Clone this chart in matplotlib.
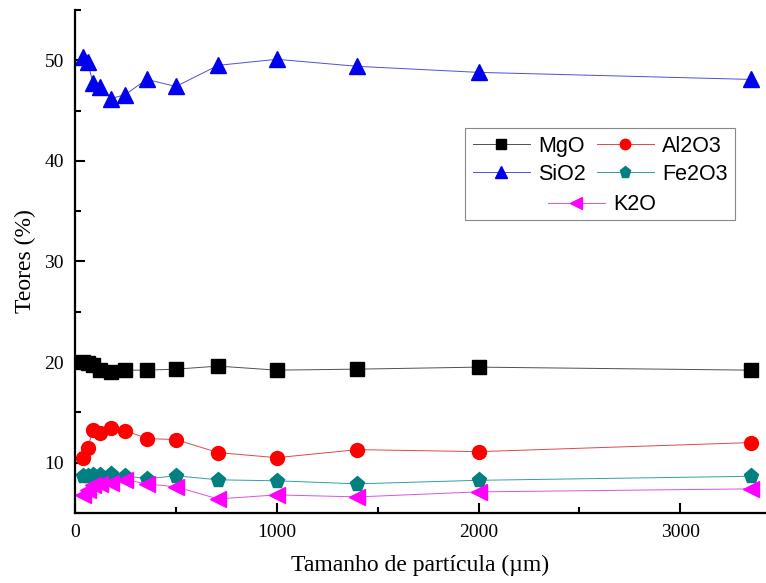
import matplotlib
matplotlib.use('Agg')
import matplotlib.pyplot as plt
from matplotlib.lines import Line2D
from matplotlib.ticker import MultipleLocator

# particle size (um)
sizes = [38, 63, 90, 125, 180, 250, 355, 500, 710, 1000, 1400, 2000, 3350]

mgo = [20.0, 19.9, 19.7, 19.2, 19.0, 19.2, 19.2, 19.3, 19.6, 19.2, 19.3, 19.5, 19.2]
al2o3 = [10.5, 11.5, 13.3, 13.0, 13.4, 13.2, 12.4, 12.3, 11.0, 10.5, 11.3, 11.1, 12.0]
sio2 = [50.3, 49.8, 47.7, 47.3, 46.2, 46.6, 48.1, 47.4, 49.5, 50.1, 49.4, 48.8, 48.1]
fe2o3 = [8.7, 8.7, 8.8, 8.8, 8.9, 8.7, 8.4, 8.7, 8.3, 8.2, 7.9, 8.25, 8.65]
k2o = [6.8, 7.3, 7.8, 7.9, 8.0, 8.3, 7.9, 7.6, 6.4, 6.8, 6.6, 7.1, 7.4]

serif = 'Liberation Serif'
sans = 'Liberation Sans'

fig = plt.figure(figsize=(7.66, 5.83), dpi=100)
ax = fig.add_axes([75 / 766, 70 / 583, 691 / 766, 503 / 583])

lw = 0.7


def series(y, marker_color, line_color, marker, ms, label):
    line, = ax.plot(sizes, y, color=line_color, lw=lw, marker=marker, ms=ms,
                    markerfacecolor=marker_color, markeredgecolor=marker_color,
                    label=label)
    return line


l_mgo = series(mgo, 'black', '#505050', 's', 9.5, 'MgO')
l_al = series(al2o3, 'red', '#e04848', 'o', 10, 'Al2O3')
l_si = series(sio2, '#0000ee', '#5050d8', '^', 11, 'SiO2')
l_fe = series(fe2o3, '#008080', '#30a0a0', 'p', 11, 'Fe2O3')
l_k = series(k2o, 'magenta', '#e050e0', '<', 11, 'K2O')

ax.set_xlim(0, 3425)
ax.set_ylim(5, 55)
ax.xaxis.set_major_locator(MultipleLocator(1000))
ax.xaxis.set_minor_locator(MultipleLocator(500))
ax.yaxis.set_major_locator(MultipleLocator(10))
ax.yaxis.set_minor_locator(MultipleLocator(5))
ax.tick_params(which='both', direction='in', width=1.5)
ax.tick_params(which='major', length=7.5, labelsize=14, pad=8)
ax.tick_params(which='minor', length=4.5)
for lab in ax.get_xticklabels() + ax.get_yticklabels():
    lab.set_fontfamily(serif)

for side in ['top', 'right']:
    ax.spines[side].set_visible(False)
for side in ['left', 'bottom']:
    ax.spines[side].set_linewidth(1.6)

ax.set_xlabel('Tamanho de partícula (µm)', fontfamily=serif, fontsize=17, labelpad=10)
ax.set_ylabel('Teores (%)', fontfamily=serif, fontsize=17, labelpad=6)

# legend: two columns, K2O centered in its own row
blank = Line2D([], [], linestyle='none')
leg = ax.legend([l_mgo, l_si, blank, l_al, l_fe, blank],
                ['MgO', 'SiO2', ' ', 'Al2O3', 'Fe2O3', ' '],
                ncol=2, loc='upper left', bbox_to_anchor=(390 / 691, (513 - 128) / 503),
                prop={'family': sans, 'size': 15.5}, frameon=True, fancybox=False,
                edgecolor='#888888', framealpha=1, handlelength=2.65, handletextpad=0.4,
                columnspacing=0.5, labelspacing=0.33, borderpad=0.35, borderaxespad=0,
                markerscale=0.75)
leg.get_frame().set_linewidth(0.8)
ax.add_artist(leg)
ax.legend([l_k], ['K2O'], loc='center', bbox_to_anchor=(527 / 691, (513 - 205) / 503),
          prop={'family': sans, 'size': 15.5}, frameon=False,
          handlelength=2.65, handletextpad=0.4, borderpad=0, borderaxespad=0,
          markerscale=0.75)

fig.savefig('out.png', dpi=100)
